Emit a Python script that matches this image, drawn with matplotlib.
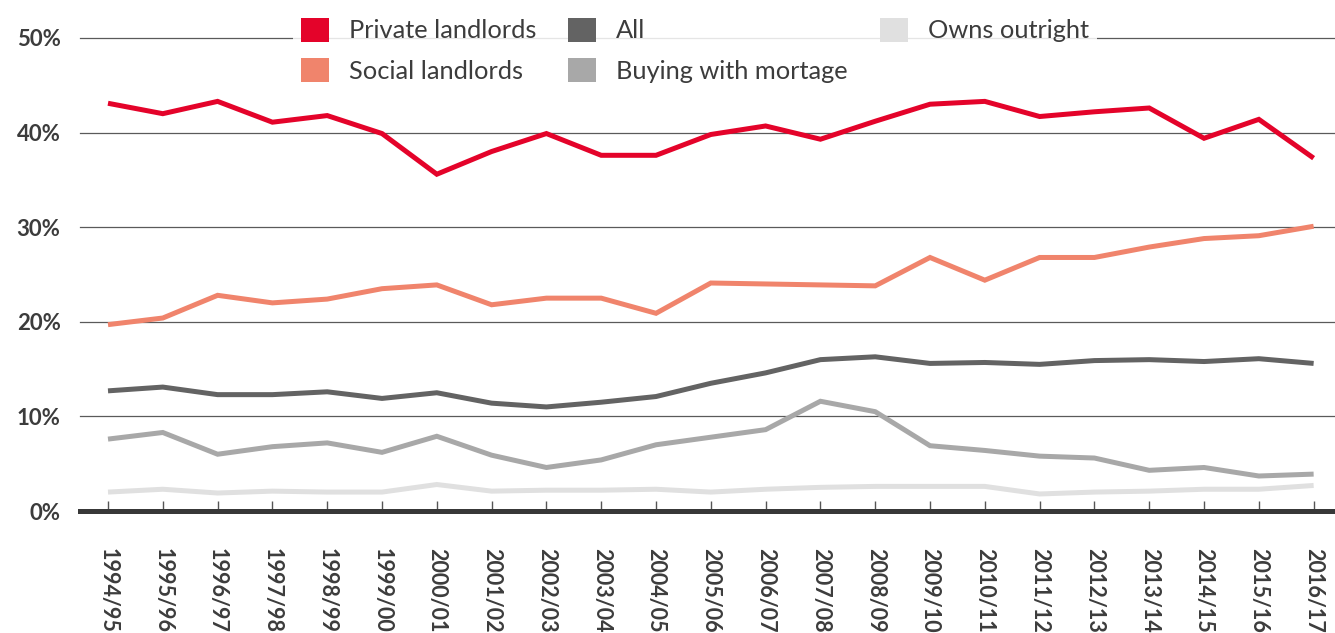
import matplotlib
matplotlib.use('Agg')
import matplotlib.pyplot as plt
from matplotlib.patches import Patch

plt.rcParams['font.family'] = ['Lato', 'DejaVu Sans']

years = ["1994/95", "1995/96", "1996/97", "1997/98", "1998/99", "1999/00",
         "2000/01", "2001/02", "2002/03", "2003/04", "2004/05", "2005/06",
         "2006/07", "2007/08", "2008/09", "2009/10", "2010/11", "2011/12",
         "2012/13", "2013/14", "2014/15", "2015/16", "2016/17"]

private_landlords = [43.1, 42.0, 43.3, 41.1, 41.8, 39.9, 35.6, 38.0, 39.9, 37.6, 37.6, 39.8,
                     40.7, 39.3, 41.2, 43.0, 43.3, 41.7, 42.2, 42.6, 39.4, 41.4, 37.3]
social_landlords = [19.7, 20.4, 22.8, 22.0, 22.4, 23.5, 23.9, 21.8, 22.5, 22.5, 20.9, 24.1,
                    24.0, 23.9, 23.8, 26.8, 24.4, 26.8, 26.8, 27.9, 28.8, 29.1, 30.1]
all_tenures = [12.7, 13.1, 12.3, 12.3, 12.6, 11.9, 12.5, 11.4, 11.0, 11.5, 12.1, 13.5,
               14.6, 16.0, 16.3, 15.6, 15.7, 15.5, 15.9, 16.0, 15.8, 16.1, 15.6]
buying_mortgage = [7.6, 8.3, 6.0, 6.8, 7.2, 6.2, 7.9, 5.9, 4.6, 5.4, 7.0, 7.8,
                   8.6, 11.6, 10.5, 6.9, 6.4, 5.8, 5.6, 4.3, 4.6, 3.7, 3.9]
owns_outright = [2.0, 2.3, 1.9, 2.1, 2.0, 2.0, 2.8, 2.1, 2.2, 2.2, 2.3, 2.0,
                 2.3, 2.5, 2.6, 2.6, 2.6, 1.8, 2.0, 2.1, 2.3, 2.3, 2.7]

yticks = [0, 10, 20, 30, 40, 50]
ytick_labels = ["0%", "10%", "20%", "30%", "40%", "50%"]

series = [
    ("Private landlords", private_landlords, "#E4032A"),
    ("Social landlords", social_landlords, "#F0846C"),
    ("All", all_tenures, "#636363"),
    ("Buying with mortage", buying_mortgage, "#A8A8A8"),
    ("Owns outright", owns_outright, "#E0E0E0"),
]

W, H = 1335, 633
fig = plt.figure(figsize=(W / 100, H / 100), dpi=100)
ax = fig.add_axes([80 / W, (H - 511) / H, 1 - 80 / W, (511 - 38) / H])

x = list(range(len(years)))
for y in yticks[1:]:
    ax.axhline(y, color="#5a5a5a", lw=0.9, zorder=1, clip_on=False)

for label, vals, col in reversed(series):
    ax.plot(x, vals, color=col, lw=3.6, solid_joinstyle="miter", solid_capstyle="butt", zorder=3)

ax.axhline(0, color="#383838", lw=3.6, zorder=4, clip_on=False)

ax.set_xlim(-0.511, 22.39)
ax.set_ylim(0, 50)
for s in ax.spines.values():
    s.set_visible(False)

ax.set_xticks(x)
ax.set_xticklabels(years, rotation=270, ha="center", va="top",
                   fontsize=15.5, fontweight="bold", color="#3c3c3c")
ax.tick_params(axis="x", direction="in", length=7.5, width=1, color="#555555", pad=27)

ax.set_yticks(yticks)
ax.set_yticklabels(ytick_labels, fontsize=16, fontweight="bold", color="#3c3c3c")
ax.tick_params(axis="y", length=0, pad=14)

handles = [Patch(facecolor=c, edgecolor="none", label=l) for l, _, c in series]
leg = fig.legend(handles=handles, loc="upper left",
                 bbox_to_anchor=(293 / W, 1 - 10 / H), bbox_transform=fig.transFigure,
                 ncol=3, fontsize=18.3, frameon=True, facecolor="white", edgecolor="none",
                 framealpha=0.85, fancybox=False, handlelength=1.1, handleheight=1.1,
                 handletextpad=0.8, labelspacing=0.6, columnspacing=1.25,
                 borderpad=0.3, borderaxespad=0)
for t in leg.get_texts():
    t.set_color("#3c3c3c")

fig.savefig("out.png", dpi=100)
